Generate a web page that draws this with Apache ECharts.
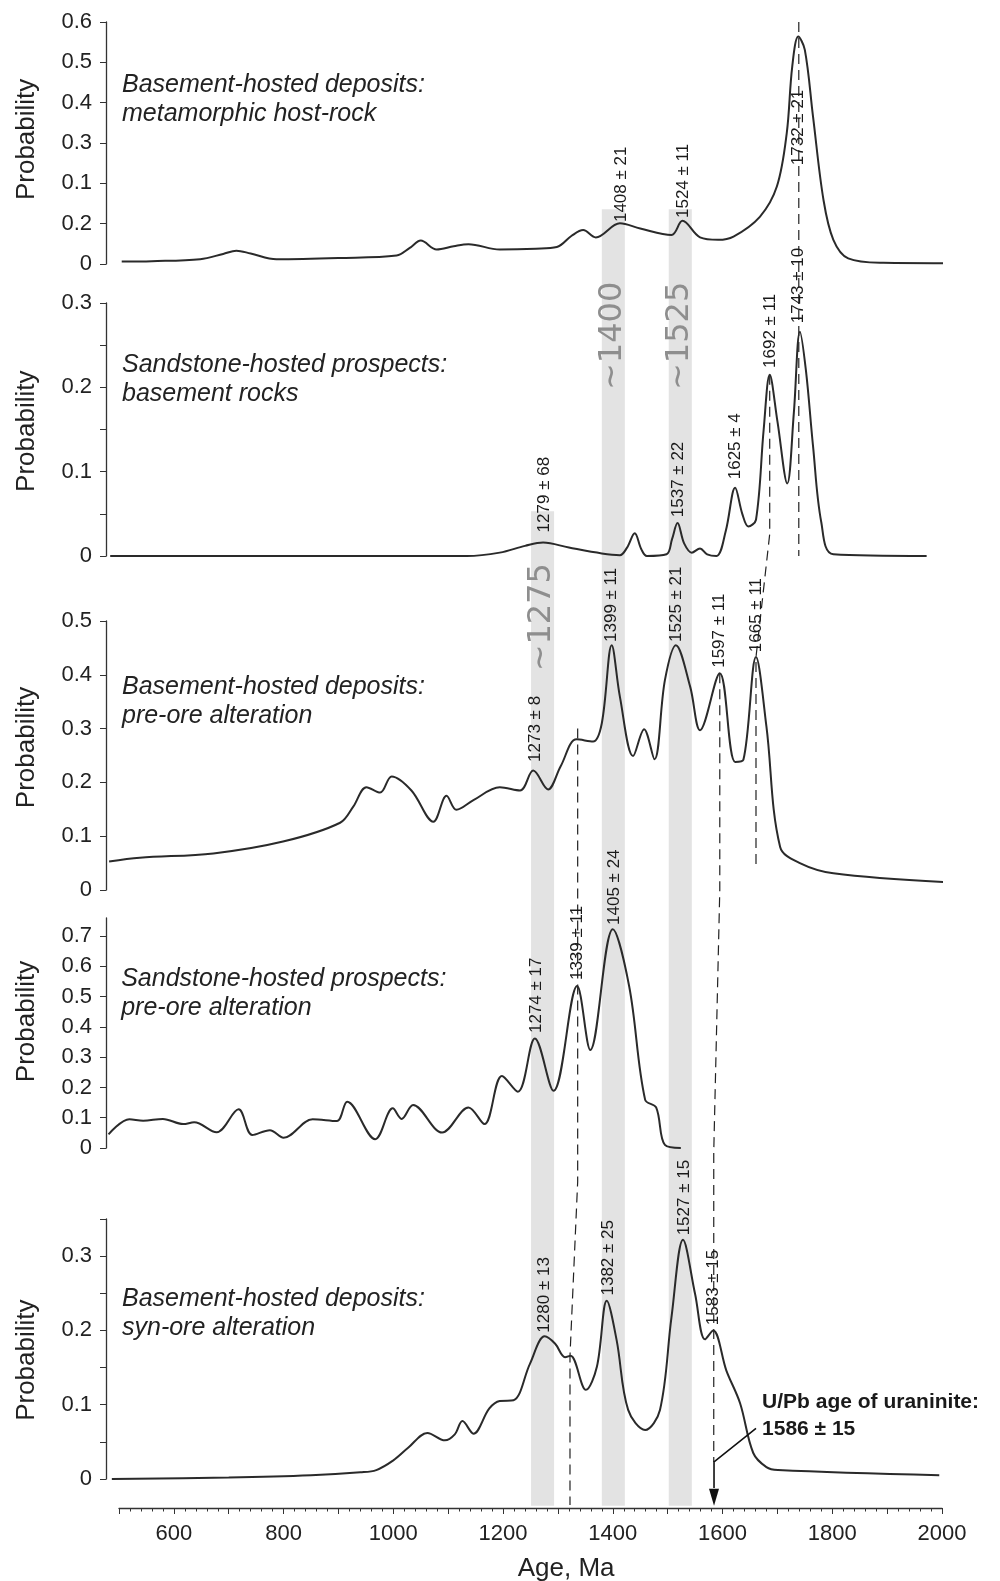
<!DOCTYPE html>
<html lang="en">
<head>
<meta charset="UTF-8">
<title>Age probability plots</title>
<style>
  *{margin:0;padding:0;}
  body{background:#fff;}
  #view{width:1000px;height:1581px;}
</style>
</head>
<body>
<div id="view"></div>
<script src="https://cdn.jsdelivr.net/npm/echarts@6/dist/echarts.min.js"></script>
<script>
// ---- data: [age Ma, probability] ----
const p1Curve = [[505,0.006],[560,0.007],[648,0.012],[690,0.025],[714,0.033],[740,0.026],[787,0.012],[900,0.015],[1006,0.021],[1030,0.04],[1050,0.058],[1079,0.036],[1110,0.044],[1137,0.049],[1194,0.036],[1260,0.038],[1298,0.042],[1325,0.07],[1346,0.084],[1369,0.066],[1413,0.101],[1450,0.088],[1507,0.072],[1527,0.107],[1559,0.066],[1592,0.060],[1620,0.068],[1668,0.117],[1699,0.192],[1717,0.324],[1727,0.489],[1738,0.564],[1750,0.531],[1765,0.365],[1784,0.159],[1802,0.060],[1829,0.014],[1893,0.003],[2008,0.002]];
const p2Curve = [[484,0.0],[800,0.0],[1134,0.0],[1194,0.004],[1240,0.012],[1273,0.016],[1320,0.010],[1380,0.003],[1413,0.001],[1426,0.01],[1440,0.027],[1452,0.008],[1462,0.0],[1498,0.002],[1508,0.02],[1518,0.039],[1530,0.015],[1544,0.004],[1559,0.009],[1572,0.002],[1589,0.0],[1606,0.03],[1623,0.081],[1636,0.05],[1647,0.035],[1661,0.043],[1675,0.15],[1686,0.215],[1700,0.16],[1718,0.086],[1730,0.17],[1741,0.266],[1752,0.22],[1765,0.130],[1780,0.04],[1802,0.002],[1972,0.0]];
const p3Curve = [[482,0.053],[538,0.060],[672,0.068],[799,0.090],[903,0.125],[927,0.155],[951,0.191],[976,0.181],[997,0.211],[1033,0.185],[1073,0.127],[1097,0.175],[1115,0.149],[1146,0.167],[1194,0.191],[1231,0.185],[1255,0.222],[1282,0.187],[1305,0.23],[1334,0.280],[1364,0.276],[1380,0.310],[1398,0.455],[1413,0.359],[1437,0.249],[1457,0.299],[1476,0.243],[1495,0.390],[1515,0.455],[1541,0.378],[1559,0.297],[1595,0.403],[1623,0.238],[1638,0.242],[1661,0.433],[1680,0.304],[1705,0.080],[1741,0.050],[1802,0.031],[2002,0.015]];
const p4Curve = [[481,0.045],[519,0.095],[544,0.090],[580,0.096],[617,0.079],[637,0.085],[678,0.052],[718,0.128],[743,0.043],[775,0.059],[800,0.034],[853,0.095],[897,0.089],[916,0.153],[967,0.029],[999,0.131],[1015,0.096],[1036,0.142],[1089,0.051],[1137,0.134],[1166,0.079],[1198,0.238],[1227,0.186],[1258,0.362],[1292,0.189],[1335,0.535],[1359,0.324],[1400,0.723],[1430,0.533],[1459,0.159],[1479,0.134],[1495,0.010],[1524,0.0]];
const p5Curve = [[487,0.0],[700,0.002],[850,0.005],[940,0.009],[969,0.012],[1000,0.025],[1027,0.042],[1062,0.062],[1094,0.052],[1112,0.06],[1126,0.078],[1146,0.061],[1175,0.095],[1194,0.105],[1219,0.106],[1249,0.155],[1276,0.192],[1295,0.182],[1313,0.164],[1323,0.166],[1351,0.120],[1371,0.151],[1389,0.240],[1407,0.187],[1428,0.093],[1459,0.066],[1486,0.093],[1507,0.218],[1528,0.322],[1550,0.249],[1568,0.188],[1583,0.200],[1607,0.146],[1632,0.102],[1656,0.035],[1680,0.016],[1701,0.012],[1995,0.005]];
const curves = [p1Curve, p2Curve, p3Curve, p4Curve, p5Curve];

const panelTitles = [
  'Basement-hosted deposits:\nmetamorphic host-rock',
  'Sandstone-hosted prospects:\nbasement rocks',
  'Basement-hosted deposits:\npre-ore alteration',
  'Sandstone-hosted prospects:\npre-ore alteration',
  'Basement-hosted deposits:\nsyn-ore alteration'
];
const yMax = [0.6, 0.3, 0.5, 0.76, 0.35];
const yTicks = [
  [0,0.1,0.2,0.3,0.4,0.5,0.6],
  [0,0.05,0.1,0.15,0.2,0.25,0.3],
  [0,0.1,0.2,0.3,0.4,0.5],
  [0,0.1,0.2,0.3,0.4,0.5,0.6,0.7],
  [0,0.05,0.1,0.15,0.2,0.25,0.3,0.35]
];
const yLabelValues = [
  [0,0.1,0.2,0.3,0.4,0.5,0.6],
  [0,0.1,0.2,0.3],
  [0,0.1,0.2,0.3,0.4,0.5],
  [0,0.1,0.2,0.3,0.4,0.5,0.6,0.7],
  [0,0.1,0.2,0.3]
];
// top panel prints 0.1 and 0.2 swapped, as in the original
const p1TickLabels = ['0','0.2','0.1','0.3','0.4','0.5','0.6'];
const xTickLabels = [600,800,1000,1200,1400,1600,1800,2000];

// peak labels: text, panel, age, probability at label foot
const peakLabels = [
  ['1408 ± 21',0,1415,0.104],['1524 ± 11',0,1528,0.114],['1732 ± 21',0,1737.5,0.245],
  ['1743 ± 10',1,1739,0.276],['1692 ± 11',1,1688,0.223],['1625 ± 4',1,1622.6,0.091],['1537 ± 22',1,1519,0.046],['1279 ± 68',1,1274.5,0.028],
  ['1273 ± 8',2,1258,0.238],['1399 ± 11',2,1397,0.461],['1525 ± 21',2,1515,0.461],['1597 ± 11',2,1595,0.413],['1665 ± 11',2,1661,0.442],
  ['1274 ± 17',3,1261,0.380],['1339 ± 11',3,1335,0.555],['1405 ± 24',3,1402,0.737],
  ['1280 ± 13',4,1276,0.197],['1382 ± 25',4,1391,0.247],['1527 ± 15',4,1530,0.328],['1583 ± 15',4,1582.5,0.207]
];
// grey age bands: from/to age, top [panel, prob], bottom [panel, prob]
const bands = [
  [1251,1293,[1,0.053],[4,-0.036]],
  [1380,1422,[0,0.136],[4,-0.036]],
  [1502,1544,[0,0.136],[4,-0.036]]
];
const bandTexts = [['~1275',2,1271,0.507],['~1400',1,1400,0.261],['~1525',1,1522,0.261]];
// dashed correlation lines: vertices [panel, age, prob]
const tieLines = [
  [[0,1739,0.6],[1,1739,0.0]],
  [[1,1686,0.215],[1,1686,0.026],[2,1661,0.433],[2,1661,0.043]],
  [[2,1595,0.403],[2,1595,0.0],[4,1584,0.44],[4,1584,0.023]],
  [[2,1336,0.30],[4,1336,0.40],[4,1322,0.166],[4,1322,-0.035]]
];

const FONT = "'Liberation Sans', Arial, Helvetica, sans-serif";
// five plot panels plus a thin strip that carries the shared age axis
const grids = [
  {top:22, height:242},
  {top:303, height:253},
  {top:621, height:269},
  {top:918, height:230},
  {top:1219, height:260}
];

const chart = echarts.init(document.getElementById('view'));
const option = {
  animation: false,
  grid: grids.map(g => ({left:108, right:58, top:g.top, height:g.height}))
    .concat([{left:119, right:58, top:1507, height:1}]),
  xAxis: grids.map((g, i) => ({gridIndex:i, type:'value', min:480, max:2000, show:false}))
    .concat([{
      gridIndex:5, type:'value', min:500, max:2000, interval:100,
      axisLine:{lineStyle:{color:'#333', width:1.3}},
      axisTick:{length:6, lineStyle:{color:'#333'}},
      minorTick:{show:true, splitNumber:5, length:3.5, lineStyle:{color:'#333'}},
      axisLabel:{
        margin:15, fontSize:22, color:'#222', fontFamily:FONT,
        formatter: v => xTickLabels.indexOf(v) >= 0 ? String(v) : ''
      },
      splitLine:{show:false}, minorSplitLine:{show:false}
    }]),
  yAxis: grids.map((g, i) => ({
    gridIndex:i, type:'value', min:0, max:yMax[i], offset:2,
    axisLine:{show:true, lineStyle:{color:'#333', width:1.3}},
    axisTick:{show:true, length:6, customValues:yTicks[i], lineStyle:{color:'#333'}},
    axisLabel:{
      customValues:yLabelValues[i], margin:14, fontSize:22, color:'#222', fontFamily:FONT,
      formatter: v => i === 0 ? p1TickLabels[Math.round(v*10)] : String(Math.round(v*10)/10)
    },
    splitLine:{show:false}
  })).concat([{gridIndex:5, type:'value', show:false}]),
  series: curves.map((c, i) => ({
    type:'line', xAxisIndex:i, yAxisIndex:i, data:c,
    showSymbol:false, smooth:0.35, silent:true, z:5,
    lineStyle:{color:'#2a2a2a', width:2}
  }))
};
chart.setOption(option);

function px(panel, age, p) {
  return chart.convertToPixel({gridIndex: panel}, [age, p]);
}

const g = [];
bands.forEach(b => {
  const a = px(b[2][0], b[0], b[2][1]);
  const c = px(b[3][0], b[1], b[3][1]);
  g.push({type:'rect', z:-1, shape:{x:a[0], y:a[1], width:c[0]-a[0], height:c[1]-a[1]}, style:{fill:'#e3e3e3'}});
});
bandTexts.forEach(t => {
  const p = px(t[1], t[2], t[3]);
  g.push({type:'text', z:3, x:p[0], y:p[1], rotation:Math.PI/2,
    style:{text:t[0], fontSize:32, fontFamily:"'DejaVu Sans', sans-serif", fill:'#8e8e8e', align:'center', verticalAlign:'middle'}});
});
tieLines.forEach(l => {
  g.push({type:'polyline', z:4, shape:{points:l.map(v => px(v[0], v[1], v[2]))},
    style:{stroke:'#222', lineWidth:1.2, lineDash:[10,6], fill:null}});
});
peakLabels.forEach(t => {
  const p = px(t[1], t[2], t[3]);
  g.push({type:'text', z:10, x:p[0], y:p[1], rotation:Math.PI/2,
    style:{text:t[0], fontSize:17, fontFamily:FONT, fill:'#1a1a1a', align:'left', verticalAlign:'middle'}});
});
const titleAnchors = [[0,505.5,0.407],[1,505.5,0.209],[2,505.5,0.351],[3,504,0.509],[4,505.5,0.223]];
panelTitles.forEach((t, i) => {
  const a = titleAnchors[i];
  const p = px(a[0], a[1], a[2]);
  g.push({type:'text', z:10, x:p[0], y:p[1],
    style:{text:t, fontSize:25, fontStyle:'italic', fontFamily:FONT, fill:'#222', align:'left', verticalAlign:'middle', lineHeight:29}});
});
const probCenters = [0.309, 0.148, 0.265, 0.418, 0.160];
probCenters.forEach((v, i) => {
  const p = px(i, 500, v);
  g.push({type:'text', z:10, x:27, y:p[1], rotation:Math.PI/2,
    style:{text:'Probability', fontSize:26, fontFamily:FONT, fill:'#222', align:'center', verticalAlign:'middle'}});
});
const agePos = px(4, 1315, -0.121);
g.push({type:'text', z:10, x:agePos[0], y:agePos[1],
  style:{text:'Age, Ma', fontSize:26, fontFamily:FONT, fill:'#222', align:'center', verticalAlign:'middle'}});

// uraninite annotation with arrow
const uPos = px(4, 1672, 0.085);
g.push({type:'text', z:10, x:uPos[0], y:uPos[1],
  style:{text:'U/Pb age of uraninite:\n1586 ± 15', fontSize:21, fontWeight:'bold', fontFamily:FONT, fill:'#1a1a1a', align:'left', verticalAlign:'middle', lineHeight:27}});
const l0 = px(4, 1661, 0.068), l1 = px(4, 1584.5, 0.023), l2 = px(4, 1584.5, -0.012), tip = px(4, 1584.5, -0.036);
g.push({type:'polyline', z:6, shape:{points:[l0, l1, l2]}, style:{stroke:'#111', lineWidth:1.6, fill:null}});
g.push({type:'polygon', z:6, shape:{points:[[tip[0]-5, tip[1]-17],[tip[0]+5, tip[1]-17],[tip[0], tip[1]]]}, style:{fill:'#111'}});

chart.setOption({graphic: g});
</script>
</body>
</html>
